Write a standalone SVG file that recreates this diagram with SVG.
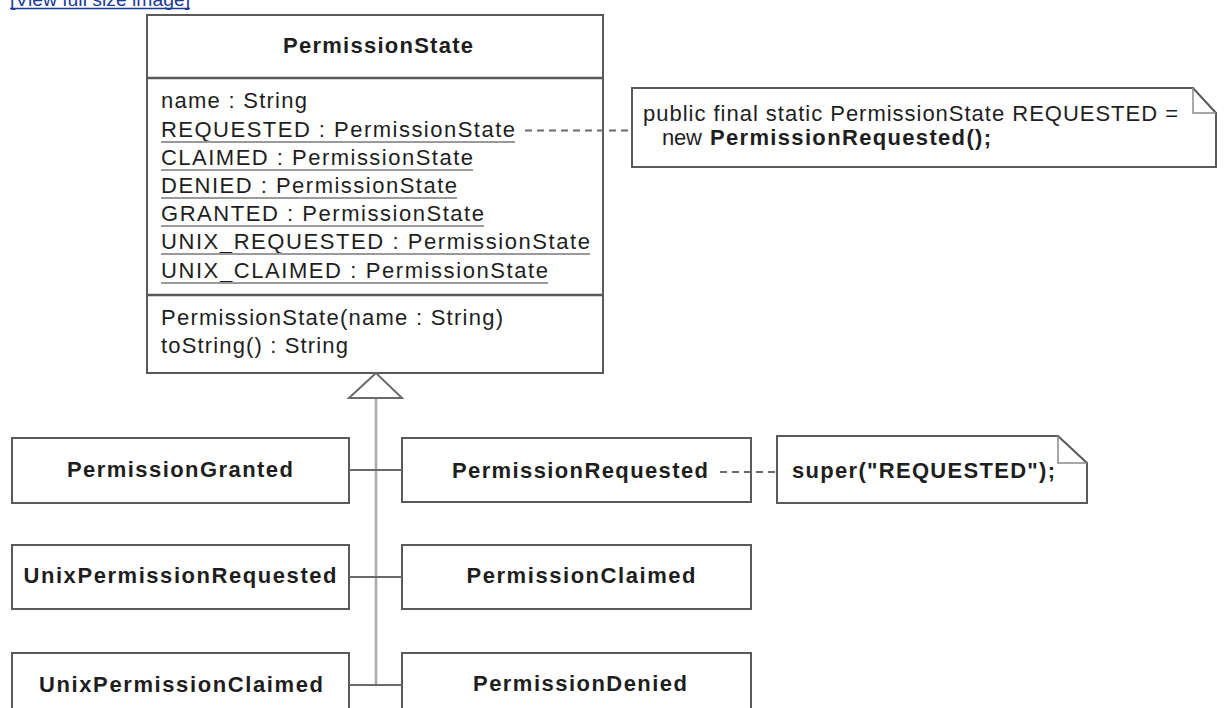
<svg xmlns="http://www.w3.org/2000/svg" width="1224" height="708" viewBox="0 0 1224 708">
<style>
  text { font-family: "Liberation Sans", Arial, Helvetica, sans-serif; fill: #1e1e1e; }
  .box { fill: #ffffff; stroke: #5a5a5a; stroke-width: 2; }
  .div { stroke: #5a5a5a; stroke-width: 2.5; fill: none; }
  .attr { font-size: 22px; }
  .bold { font-size: 22px; font-weight: bold; }
  .ul { stroke: #9a9a9a; stroke-width: 2; }
  .dash { stroke: #6a6a6a; stroke-width: 1.8; stroke-dasharray: 7 5; fill: none; }
  .conn { stroke: #6a6a6a; stroke-width: 2; fill: none; }
  .trunk { stroke: #aaaaaa; stroke-width: 2.5; fill: none; }
  .fold { stroke: #8a8a8a; stroke-width: 1.5; fill: none; }
  .link { font-size: 19px; fill: #1a3a9a; }
</style>
<rect width="1224" height="708" fill="#ffffff"/>

<g id="link">
  <text class="link" x="10" y="5.5" textLength="180" lengthAdjust="spacingAndGlyphs">[View full size image]</text>
  <line x1="10" y1="8.5" x2="190" y2="8.5" stroke="#1a3a9a" stroke-width="1.5"/>
</g>

<g id="PermissionState">
  <rect class="box" x="147" y="15" width="456" height="358"/>
  <line class="div" x1="147" y1="78" x2="603" y2="78"/>
  <line class="div" x1="147" y1="295" x2="603" y2="295"/>
  <text class="bold" x="378" y="53" text-anchor="middle" textLength="190">PermissionState</text>
  <text class="attr" x="161" y="108" textLength="146">name : String</text>
  <text class="attr" x="161" y="137" textLength="354">REQUESTED : PermissionState</text>
  <line class="ul" x1="161" y1="142" x2="515" y2="142"/>
  <text class="attr" x="161" y="165" textLength="312">CLAIMED : PermissionState</text>
  <line class="ul" x1="161" y1="170" x2="473" y2="170"/>
  <text class="attr" x="161" y="193" textLength="296">DENIED : PermissionState</text>
  <line class="ul" x1="161" y1="198" x2="457" y2="198"/>
  <text class="attr" x="161" y="221" textLength="323">GRANTED : PermissionState</text>
  <line class="ul" x1="161" y1="226" x2="484" y2="226"/>
  <text class="attr" x="161" y="249" textLength="429">UNIX_REQUESTED : PermissionState</text>
  <line class="ul" x1="161" y1="254" x2="590" y2="254"/>
  <text class="attr" x="161" y="278" textLength="387">UNIX_CLAIMED : PermissionState</text>
  <line class="ul" x1="161" y1="283" x2="548" y2="283"/>
  <text class="attr" x="161" y="325" textLength="342">PermissionState(name : String)</text>
  <text class="attr" x="161" y="353" textLength="187">toString() : String</text>
</g>

<g id="note-requested-field">
  <path class="box" d="M632,88 H1193 L1216,113 V167 H632 Z"/>
  <path class="fold" d="M1193,88 V113 H1216"/>
  <text class="attr" x="643" y="121" textLength="535">public final static PermissionState REQUESTED =</text>
  <text class="attr" x="662" y="145" textLength="40">new</text>
  <text class="bold" x="710" y="145" textLength="281">PermissionRequested();</text>
</g>

<g id="PermissionGranted">
  <rect class="box" x="12" y="438" width="337" height="65"/>
  <text class="bold" x="180" y="477" text-anchor="middle" textLength="226">PermissionGranted</text>
</g>
<g id="UnixPermissionRequested">
  <rect class="box" x="12" y="545" width="337" height="64"/>
  <text class="bold" x="180" y="583" text-anchor="middle" textLength="313">UnixPermissionRequested</text>
</g>
<g id="UnixPermissionClaimed">
  <rect class="box" x="12" y="653" width="337" height="70"/>
  <text class="bold" x="181" y="692" text-anchor="middle" textLength="284">UnixPermissionClaimed</text>
</g>
<g id="PermissionRequested">
  <rect class="box" x="402" y="438" width="349" height="64"/>
  <text class="bold" x="580" y="478" text-anchor="middle" textLength="256">PermissionRequested</text>
</g>
<g id="PermissionClaimed">
  <rect class="box" x="402" y="545" width="349" height="64"/>
  <text class="bold" x="581" y="583" text-anchor="middle" textLength="229">PermissionClaimed</text>
</g>
<g id="PermissionDenied">
  <rect class="box" x="402" y="653" width="349" height="70"/>
  <text class="bold" x="580" y="691" text-anchor="middle" textLength="214">PermissionDenied</text>
</g>

<g id="note-super">
  <path class="box" d="M777,436 H1058 L1087,463 V503 H777 Z"/>
  <path class="fold" d="M1058,436 V463 H1087"/>
  <text class="bold" x="792" y="478" textLength="263">super("REQUESTED");</text>
</g>

<g id="connectors">
  <line class="dash" x1="525" y1="130.5" x2="632" y2="130.5"/>
  <line class="dash" x1="720" y1="472" x2="777" y2="472"/>
  <line class="trunk" x1="376" y1="398" x2="376" y2="685"/>
  <line class="conn" x1="349" y1="470" x2="402" y2="470"/>
  <line class="conn" x1="349" y1="577" x2="402" y2="577"/>
  <line class="conn" x1="349" y1="685" x2="402" y2="685"/>
  <polygon points="376,373 349,398 402,398" fill="#ffffff" stroke="#6a6a6a" stroke-width="2"/>
</g>
</svg>
